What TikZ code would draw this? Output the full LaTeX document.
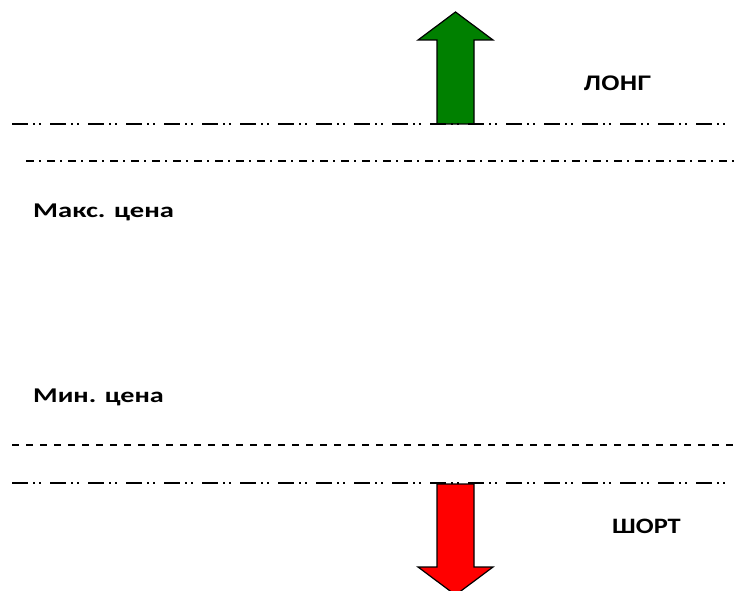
\documentclass[tikz,border=0pt]{standalone}
\usepackage{fontspec}
\setmainfont{Carlito}
\newfontfamily\arialb{Liberation Sans}[BoldFont={* Bold}]
\begin{document}
\begin{tikzpicture}[x=1pt,y=-1pt,
  dashdotdot/.style={line width=2pt,dash pattern=on 16pt off 5pt on 2pt off 4pt on 2pt off 9pt},
  dashdotline/.style={line width=2pt,dash pattern=on 8pt off 5pt on 2pt off 6pt},
  dashline/.style={line width=2pt,dash pattern=on 7pt off 7pt},
  arrowshape/.style={draw=black,line width=1.2pt,line join=miter},
  lbl/.style={font=\bfseries\fontsize{21}{24}\selectfont,inner sep=0pt}]
\useasboundingbox (0,0) rectangle (736,591);
% arrows
\fill[fill=green!50!black,arrowshape] (437,124) -- (437,40) -- (418,40) -- (455.5,12) -- (493,40) -- (474,40) -- (474,124) -- cycle;
\fill[fill=red,arrowshape] (437,484) -- (437,567) -- (418,567) -- (455.5,595) -- (493,567) -- (474,567) -- (474,484) -- cycle;
% lines
\coordinate (l1a) at (12,124); \coordinate (l1b) at (728,124);
\coordinate (l2a) at (26,161); \coordinate (l2b) at (736,161);
\coordinate (l3a) at (12,445); \coordinate (l3b) at (734,445);
\coordinate (l4a) at (12,483); \coordinate (l4b) at (728,483);
\draw[dashdotdot] (l1a) -- (l1b);
\draw[dashdotline] (l2a) -- (l2b);
\draw[dashline] (l3a) -- (l3b);
\draw[dashdotdot] (l4a) -- (l4b);
% labels
\node[lbl,font=\arialb\bfseries\fontsize{21}{24}\selectfont] (long) at (617.5,83) {\scalebox{1.15}[1]{ЛОНГ}};
\node[lbl,font=\bfseries\fontsize{22}{24}\selectfont] (short) at (646.5,526) {\scalebox{1.2}[1]{ШОРТ}};
\node[lbl,anchor=west] (max) at (33,212) {\scalebox{1.36}[1]{Макс. цена}};
\node[lbl,anchor=west] (min) at (33,397) {\scalebox{1.34}[1]{Мин. цена}};
\end{tikzpicture}
\end{document}
